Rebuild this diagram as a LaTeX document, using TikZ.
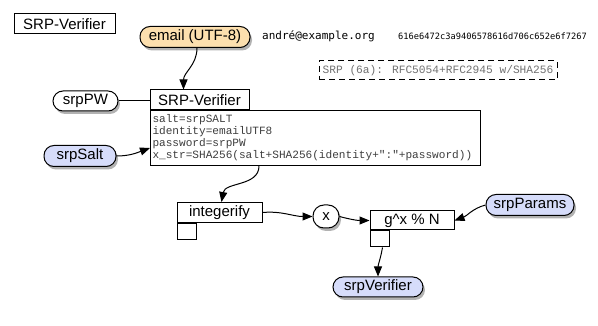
\documentclass[tikz,border=0pt]{standalone}
\usepackage{fontspec}
\setmainfont{Liberation Sans}
\newfontfamily\codefont{Liberation Mono}
\newfontfamily\dvm{DejaVu Sans Mono}
\usetikzlibrary{arrows.meta,shadows}
\definecolor{pillorange}{HTML}{FCDFAE}
\definecolor{pillblue}{HTML}{D6DCFA}
\definecolor{codegray}{HTML}{3C3C3C}
\definecolor{dashgray}{HTML}{707070}
\tikzset{
  lbl/.style={font=\fontsize{15}{18}\selectfont},
  boxn/.style={draw, line width=1pt, inner sep=0pt, lbl},
  pill/.style={draw, line width=1pt, rounded corners=10pt, inner sep=0pt, lbl,
    drop shadow={shadow xshift=2pt, shadow yshift=-3pt, opacity=0.3, fill=black}},
  arr/.style={line width=1pt, -{Triangle[length=10pt,width=8pt]}},
  conn/.style={line width=1pt},
}
\begin{document}
\begin{tikzpicture}[x=1pt,y=-1pt]
\useasboundingbox (0,0) rectangle (598,326);
% title
\node[boxn, minimum width=101pt, minimum height=20pt] (title) at (64.5,24) {SRP-Verifier};
% email
\node[pill, fill=pillorange, minimum width=110pt, minimum height=21pt] (email) at (195,37) {email (UTF-8)};
\node[font=\dvm\fontsize{11}{13}\selectfont, anchor=west, inner sep=0pt] (addr) at (262,36) {andré@example.org};
\node[font=\dvm\fontsize{8.7}{10}\selectfont, anchor=west, inner sep=0pt] (hex) at (398,36) {616e6472c3a9406578616d706c652e6f7267};
% dashed
\node[draw, line width=1pt, dash pattern=on 6pt off 4pt, minimum width=238pt, minimum height=19pt, inner sep=0pt,
  text=dashgray, font=\codefont\fontsize{11.2}{13}\selectfont] (rfc) at (438,70.5) {SRP (6a): RFC5054+RFC2945 w/SHA256};
% srpPW
\node[pill, fill=white, minimum width=65pt, minimum height=20pt] (pw) at (85.5,101) {srpPW};
% header
\node[boxn, minimum width=99pt, minimum height=20pt] (hdr) at (199.5,100) {SRP-Verifier};
% code box
\node[draw, line width=1pt, anchor=north west, minimum width=330pt, minimum height=55pt, text width=326pt,
  inner xsep=2pt, inner ysep=2pt, align=left, text=codegray, font=\codefont\fontsize{11.1}{12}\selectfont] (code) at (150,110)
  {salt=srpSALT\\identity=emailUTF8\\password=srpPW\\x\_str=SHA256(salt+SHA256(identity+":"+password))};
% srpSalt
\node[pill, fill=pillblue, minimum width=72pt, minimum height=21pt] (salt) at (80,156) {srpSalt};
% integerify
\node[boxn, minimum width=85pt, minimum height=20pt] (int) at (219.5,212.5) {integerify};
\node[draw, line width=1pt, minimum width=19pt, minimum height=16pt, inner sep=0pt, anchor=north west] (ints) at (int.south west) {};
% x
\node[pill, fill=white, minimum width=26pt, minimum height=23pt, rounded corners=11pt] (xn) at (326,216.5) {x};
% g^x
\node[boxn, minimum width=84pt, minimum height=19pt] (g) at (412,220.5) {g\textasciicircum x \% N};
\node[draw, line width=1pt, minimum width=19pt, minimum height=16pt, inner sep=0pt, anchor=north west] (gs) at (g.south west) {};
% srpParams
\node[pill, fill=pillblue, minimum width=88pt, minimum height=21pt] (params) at (530,205) {srpParams};
% srpVerifier
\node[pill, fill=pillblue, minimum width=90pt, minimum height=20pt] (ver) at (378,287) {srpVerifier};
% connectors
\draw[arr] ([xshift=2pt]email.south) to[out=-90,in=90] ([xshift=-16pt]hdr.north);
\draw[conn] (pw.east) -- (hdr.west |- pw.east);
\draw[arr] (salt.east) to[out=0,in=200] ([yshift=-10pt]code.west);
\draw[arr] ([xshift=109pt]code.south west) to[out=-90,in=80] ([xshift=2pt]int.north);
\draw[arr] (int.east) to[out=5,in=180] (xn.west);
\draw[arr] (xn.east) to[out=-15,in=180] (g.west);
\draw[arr] (params.west) to[out=195,in=20] (g.east);
\draw[arr] ([xshift=3pt]gs.south) to[out=-100,in=90] (ver.north);
\end{tikzpicture}
\end{document}
